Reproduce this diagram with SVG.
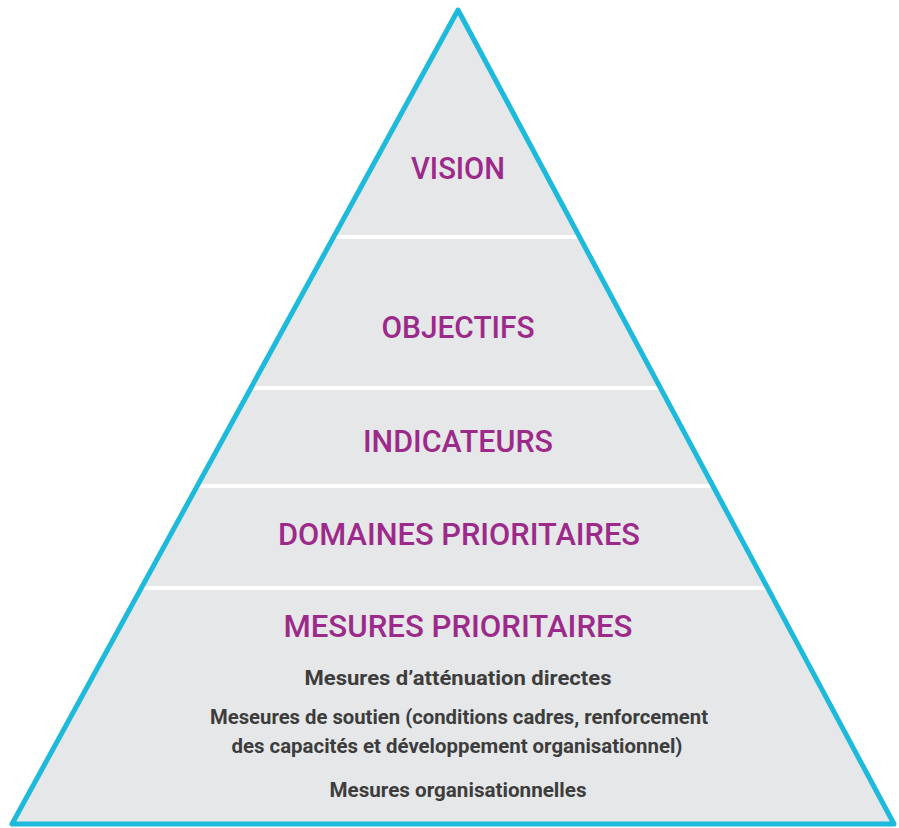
<svg xmlns="http://www.w3.org/2000/svg" width="899" height="828" viewBox="0 0 899 828">
<style>
.title{font-family:Roboto,"Liberation Sans",sans-serif;font-weight:500;font-size:32px;fill:#9c2a8a;text-anchor:middle}
.sub{font-family:Roboto,"Liberation Sans",sans-serif;font-weight:700;font-size:20px;fill:#3d3d3d;text-anchor:middle}
.sep{fill:#ffffff}
</style>
<defs>
<clipPath id="tri"><polygon points="458,10 12,824 894,824"/></clipPath>
</defs>
<rect width="899" height="828" fill="#ffffff"/>
<g id="pyramid">
<polygon points="458,10 12,824 894,824" fill="#e6e7e8"/>
<g clip-path="url(#tri)">
<rect class="sep" x="0" y="235" width="899" height="4"/>
<rect class="sep" x="0" y="386" width="899" height="4"/>
<rect class="sep" x="0" y="484" width="899" height="4"/>
<rect class="sep" x="0" y="586" width="899" height="4"/>
</g>
<polygon points="458,10 12,824 894,824" fill="none" stroke="#1dbadb" stroke-width="5" stroke-linejoin="round"/>
</g>
<g id="vision"><text class="title" x="458" y="179" textLength="94" lengthAdjust="spacingAndGlyphs">VISION</text></g>
<g id="objectifs"><text class="title" x="458" y="338" textLength="153" lengthAdjust="spacingAndGlyphs">OBJECTIFS</text></g>
<g id="indicateurs"><text class="title" x="458" y="452" textLength="190" lengthAdjust="spacingAndGlyphs">INDICATEURS</text></g>
<g id="domaines"><text class="title" x="459" y="545" textLength="362" lengthAdjust="spacingAndGlyphs">DOMAINES PRIORITAIRES</text></g>
<g id="mesures">
<text class="title" x="458" y="637" textLength="349" lengthAdjust="spacingAndGlyphs">MESURES PRIORITAIRES</text>
<text class="sub" x="458" y="685" textLength="307" lengthAdjust="spacingAndGlyphs">Mesures d’atténuation directes</text>
<text class="sub" x="459" y="724" textLength="498" lengthAdjust="spacingAndGlyphs">Meseures de soutien (conditions cadres, renforcement</text>
<text class="sub" x="457" y="753" textLength="451" lengthAdjust="spacingAndGlyphs">des capacités et développement organisationnel)</text>
<text class="sub" x="458" y="797" textLength="257" lengthAdjust="spacingAndGlyphs">Mesures organisationnelles</text>
</g>
<g id="connectors"/>
</svg>
